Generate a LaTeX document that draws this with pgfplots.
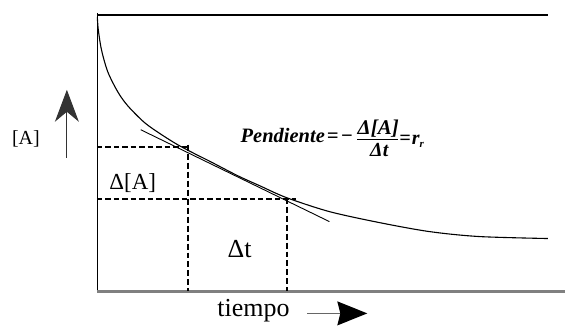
\documentclass[border=0pt]{standalone}
\usepackage{fontspec}
\setmainfont{Liberation Serif}
\usepackage{pgfplots}
\pgfplotsset{compat=1.18}
\usetikzlibrary{arrows.meta}
\begin{document}
\begin{tikzpicture}
\begin{axis}[
  scale only axis, width=566pt, height=326pt,
  xmin=0, xmax=566, ymin=0, ymax=326,
  axis line style={draw=none}, ticks=none, clip=false,
]
% frame lines
\addplot[black, line width=1.4pt] coordinates {(97.5,313) (97.5,34)};
\addplot[black, line width=1.3pt] coordinates {(97,311) (549,311)};
\addplot[gray, line width=2.2pt] coordinates {(97,34) (566,34)};
% concentration curve
\addplot[black, line width=1.1pt, smooth] coordinates {
(97.5,309) (98.5,296) (101.7,276) (108,254) (118,234) (128,220) (145,203)
(162,191) (178,181) (195,172) (210,164.5) (238,150) (260,140) (287,128)
(330,114) (380,103) (430,94) (480,89) (549,87)};
% tangent
\addplot[black, line width=0.9pt] coordinates {(141,196) (330,104)};
% dashed guides
\addplot[black, line width=1.9pt, dash pattern=on 5.5pt off 3pt] coordinates {(97,179) (190,179)};
\addplot[black, line width=1.9pt, dash pattern=on 6pt off 3pt] coordinates {(188,181) (188,34)};
\addplot[black, line width=1.9pt, dash pattern=on 5.5pt off 3pt] coordinates {(97,127) (297,127)};
\addplot[black, line width=1.9pt, dash pattern=on 6pt off 3pt] coordinates {(288,128) (288,34)};
% arrows
\addplot[black!80, line width=1pt, -{Stealth[length=32pt,width=24pt,inset=10pt]}] coordinates {(67,168) (67,236)};
\addplot[black!60, line width=1.2pt, -{Stealth[length=30pt,width=24pt,inset=3pt,black]}] coordinates {(308,12) (368,12)};
% fraction bar of the formula
\addplot[black, line width=1.3pt] coordinates {(358,186) (399,186)};
% labels
\node[anchor=base, font=\fontsize{20}{22}\selectfont] at (axis cs:26,181) {[A]};
\node[anchor=base, font=\fontsize{23}{26}\selectfont] at (axis cs:133,136) {Δ[A]};
\node[anchor=base, font=\fontsize{26}{28}\selectfont] at (axis cs:240,68) {Δt};
\node[anchor=base, font=\fontsize{26}{28}\selectfont] at (axis cs:254,9) {tiempo};
% formula
\node[anchor=base west, inner sep=0pt, font=\fontsize{20.5}{22}\selectfont\bfseries\itshape] at (axis cs:241,183)
  {Pendiente\hspace{2pt}=\hspace{2pt}−};
\node[anchor=base, inner sep=0pt, font=\fontsize{21}{22}\selectfont\bfseries\itshape] at (axis cs:379,191) {Δ[A]};
\node[anchor=base, inner sep=0pt, font=\fontsize{20}{22}\selectfont\bfseries\itshape] at (axis cs:380,169) {Δt};
\node[anchor=base west, inner sep=0pt, font=\fontsize{20}{22}\selectfont\bfseries\itshape] at (axis cs:400,181)
  {=\hspace{1pt}r\raisebox{-3pt}{\fontsize{11}{11}\selectfont r}};
\end{axis}
\end{tikzpicture}
\end{document}
